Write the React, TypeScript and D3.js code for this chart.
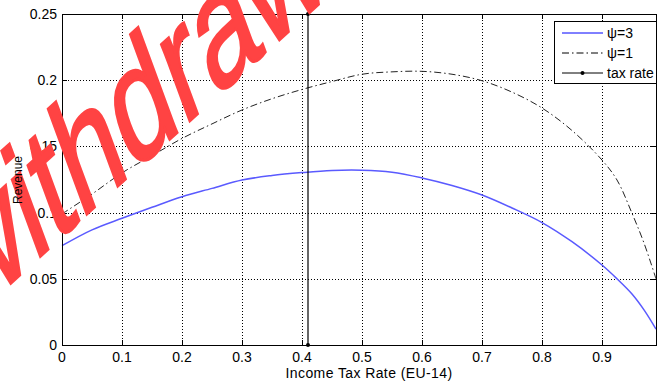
import * as d3 from 'd3';

// tax rate grid the curves were read at
const taxRates = [0, 0.05, 0.1, 0.15, 0.2, 0.25, 0.3, 0.35, 0.4, 0.45, 0.5, 0.55, 0.6, 0.65, 0.7, 0.75, 0.8, 0.85, 0.9, 0.925, 0.95, 0.97, 0.99];

// revenue, psi = 3 (blue)
const revenuePsi3 = [0.075, 0.087, 0.0957, 0.104, 0.112, 0.1183, 0.1246, 0.128, 0.1302, 0.1318, 0.132, 0.1305, 0.1262, 0.1205, 0.1133, 0.1035, 0.0925, 0.078, 0.0604, 0.05, 0.0385, 0.0265, 0.012];

// revenue, psi = 1 (dash-dot)
const revenuePsi1 = [0.099, 0.114, 0.13, 0.143, 0.156, 0.167, 0.1775, 0.186, 0.193, 0.199, 0.2045, 0.2063, 0.2067, 0.2045, 0.1996, 0.191, 0.179, 0.162, 0.1397, 0.1246, 0.0995, 0.077, 0.05];

const currentTaxRate = 0.41;

const xTicks = [0, 0.1, 0.2, 0.3, 0.4, 0.5, 0.6, 0.7, 0.8, 0.9];
const yTicks = [0, 0.05, 0.1, 0.15, 0.2, 0.25];

const legendItems = ['\u03c8=3', '\u03c8=1', 'tax rate'];

const W = 658;
const H = 385;
const left = 62, right = 656, top = 14, bottom = 345;
const font = '"Liberation Sans", Arial, sans-serif';

const App = () => {
  const x = d3.scaleLinear().domain([0, 0.99]).range([left, right]);
  const y = d3.scaleLinear().domain([0, 0.25]).range([bottom, top]);

  const line = d3.line<number>()
    .x((d, i) => x(taxRates[i]))
    .y(d => y(d))
    .curve(d3.curveCatmullRom);

  return (
    <svg width={W} height={H} style={{ position: 'absolute', left: 0, top: 0, background: '#fff' }}
      fontFamily={font}>
      {/* grid */}
      <g stroke="#000" strokeWidth={1} strokeDasharray="1,2" shapeRendering="crispEdges">
        {xTicks.slice(1).map(t => (
          <line key={'gx' + t} x1={Math.round(x(t)) + 0.5} x2={Math.round(x(t)) + 0.5} y1={top} y2={bottom} />
        ))}
        {yTicks.slice(1, -1).map(t => (
          <line key={'gy' + t} x1={left} x2={right} y1={Math.round(y(t)) + 0.5} y2={Math.round(y(t)) + 0.5} />
        ))}
      </g>

      {/* curves */}
      <path d={line(revenuePsi3) || ''} fill="none" stroke="#5a5aff" strokeWidth={1.5} />
      <path d={line(revenuePsi1) || ''} fill="none" stroke="#222" strokeWidth={1} strokeDasharray="7,3,1.5,3" />

      {/* tax rate marker line */}
      <line x1={x(currentTaxRate)} x2={x(currentTaxRate)} y1={y(0)} y2={y(0.25)} stroke="#000" strokeWidth={1.2} />
      <circle cx={x(currentTaxRate)} cy={y(0)} r={2} fill="#000" />
      <circle cx={x(currentTaxRate)} cy={y(0.25)} r={2} fill="#000" />

      {/* axes box and ticks */}
      <g stroke="#000" strokeWidth={1} shapeRendering="crispEdges">
        <rect x={left + 0.5} y={top + 0.5} width={right - left} height={bottom - top} fill="none" />
        {xTicks.map(t => (
          <g key={'tx' + t}>
            <line x1={Math.round(x(t)) + 0.5} x2={Math.round(x(t)) + 0.5} y1={bottom} y2={bottom - 5} />
            <line x1={Math.round(x(t)) + 0.5} x2={Math.round(x(t)) + 0.5} y1={top} y2={top + 5} />
          </g>
        ))}
        {yTicks.map(t => (
          <g key={'ty' + t}>
            <line x1={left} x2={left + 5} y1={Math.round(y(t)) + 0.5} y2={Math.round(y(t)) + 0.5} />
            <line x1={right - 5} x2={right} y1={Math.round(y(t)) + 0.5} y2={Math.round(y(t)) + 0.5} />
          </g>
        ))}
      </g>

      {/* tick labels */}
      <g fontSize={14} fill="#000">
        {xTicks.map(t => (
          <text key={'lx' + t} x={x(t)} y={362} textAnchor="middle">{d3.format('~g')(t)}</text>
        ))}
        {yTicks.map(t => (
          <text key={'ly' + t} x={57} y={y(t) + 5} textAnchor="end">{d3.format('~g')(t)}</text>
        ))}
      </g>

      <text x={(left + right) / 2 + 10} y={378} textAnchor="middle" fontSize={14} letterSpacing={0.4}>
        Income Tax Rate (EU-14)
      </text>

      {/* legend */}
      <g>
        <rect x={554.5} y={21.5} width={102} height={62} fill="#fff" stroke="#000" shapeRendering="crispEdges" />
        {legendItems.map((name, i) => {
          const ly = 33 + i * 20;
          return (
            <g key={name}>
              {i === 0 && <line x1={562} x2={603} y1={ly} y2={ly} stroke="#0000ff" />}
              {i === 1 && <line x1={562} x2={603} y1={ly} y2={ly} stroke="#000" strokeDasharray="7,3,1.5,3" />}
              {i === 2 && (
                <g>
                  <line x1={562} x2={603} y1={ly} y2={ly} stroke="#000" />
                  <circle cx={582.5} cy={ly} r={2} fill="#000" />
                </g>
              )}
              <text x={607} y={ly + 5} fontSize={14}>{name}</text>
            </g>
          );
        })}
      </g>

      {/* watermark: rotated text, stretched vertically */}
      <text transform="translate(-33,323) scale(1,1.57) rotate(-30)" fontSize={107} fill="#ff4343"
        stroke="#ff4343" strokeWidth={2}>withdrawn</text>

      <text transform="translate(22,180) rotate(-90)" textAnchor="middle" fontSize={12}>Revenue</text>
    </svg>
  );
};

export default App;
